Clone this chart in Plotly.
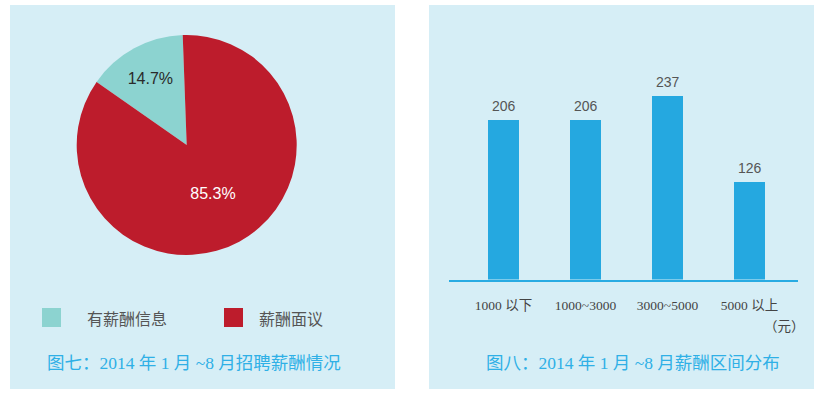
import plotly.graph_objects as go

W, H = 822, 398

# ---- data ----
pie_labels = ["有薪酬信息", "薪酬面议"]
pie_values = [14.7, 85.3]
pie_colors = ["#8cd3d0", "#bd1c2c"]
pie_text_colors = ["#2a2a2a", "#ffffff"]

bar_categories = ["1000 以下", "1000~3000", "3000~5000", "5000 以上"]
bar_values = [206, 206, 237, 126]
bar_color = "#25a8e0"

caption_left = "图七：2014 年 1 月 ~8 月招聘薪酬情况"
caption_right = "图八：2014 年 1 月 ~8 月薪酬区间分布"
unit_label = "（元）"

PANEL = "#d6eef6"
CAPTION = "#2fb0e6"
SERIF = "Liberation Serif, Noto Sans CJK SC, serif"
SANS = "Liberation Sans, Arial, Noto Sans CJK SC, sans-serif"


def px(x):
    return x / W


def py(y):
    return 1 - y / H


fig = go.Figure()

# ---- pie ----
fig.add_trace(go.Pie(
    labels=pie_labels,
    values=pie_values,
    marker=dict(colors=pie_colors, line=dict(width=0)),
    sort=False,
    direction="clockwise",
    rotation=-55,
    textinfo="percent",
    texttemplate="%{value:.1f}%",
    textposition="inside",
    insidetextorientation="horizontal",
    textfont=dict(family=SANS, size=16, color=pie_text_colors),
    domain=dict(x=[px(76.7), px(296.7)], y=[py(255), py(35)]),
    showlegend=False,
    hoverinfo="label+percent",
))

# ---- bars ----
fig.add_trace(go.Bar(
    x=bar_categories,
    y=bar_values,
    marker=dict(color=bar_color, line=dict(width=0)),
    width=0.378,
    showlegend=False,
    xaxis="x",
    yaxis="y",
))

scale = 0.7742  # px per unit
base_y = 279.5
top_y = 60
x0, x1 = 449, 798
cat_px = 82.0

fig.update_layout(
    width=W, height=H,
    margin=dict(l=0, r=0, t=0, b=0),
    paper_bgcolor="white",
    plot_bgcolor="rgba(0,0,0,0)",
    xaxis=dict(
        domain=[px(x0), px(x1)],
        anchor="y",
        range=[-(503.5 - x0) / cat_px, 3 + (x1 - 749.5) / cat_px],
        showline=True, linecolor="#29abe2", linewidth=2,
        showgrid=False, zeroline=False,
        ticks="outside", ticklen=12, tickcolor="rgba(0,0,0,0)",
        tickfont=dict(family=SERIF, size=13.5, color="#444444"),
        fixedrange=True,
    ),
    yaxis=dict(
        domain=[py(base_y), py(top_y)],
        anchor="x",
        range=[0, (base_y - top_y) / scale],
        visible=False,
        fixedrange=True,
    ),
    bargap=0,
)

# panels
for (a, b) in [(10, 395), (429, 814)]:
    fig.add_shape(type="rect", xref="paper", yref="paper",
                  x0=px(a), x1=px(b), y0=py(389), y1=py(5),
                  fillcolor=PANEL, line=dict(width=0), layer="below")

# value labels above bars
for c, v in zip(bar_categories, bar_values):
    fig.add_annotation(x=c, y=v, xref="x", yref="y", text=str(v),
                       showarrow=False, yanchor="bottom", yshift=4,
                       font=dict(family=SANS, size=14, color="#555555"))

# unit label
fig.add_annotation(x=px(807), y=py(326), xref="paper", yref="paper",
                   text=unit_label, showarrow=False, xanchor="right", yanchor="middle",
                   font=dict(family=SERIF, size=13.5, color="#444444"))

# legend for pie
legend_pos = [(42, 85), (224, 257)]
for (sx, tx), lab, col in zip(legend_pos, pie_labels, pie_colors):
    fig.add_shape(type="rect", xref="paper", yref="paper",
                  x0=px(sx), x1=px(sx + 19), y0=py(327), y1=py(308),
                  fillcolor=col, line=dict(width=0))
    fig.add_annotation(x=px(tx), y=py(317.5), xref="paper", yref="paper",
                       text=lab, showarrow=False, xanchor="left", yanchor="middle",
                       font=dict(family="Noto Sans CJK SC, sans-serif", size=16, color="#555555"))

# captions
fig.add_annotation(x=px(194), y=py(363), xref="paper", yref="paper",
                   text=caption_left, showarrow=False, xanchor="center", yanchor="middle",
                   font=dict(family=SERIF, size=17.5, color=CAPTION))
fig.add_annotation(x=px(633), y=py(363), xref="paper", yref="paper",
                   text=caption_right, showarrow=False, xanchor="center", yanchor="middle",
                   font=dict(family=SERIF, size=17.5, color=CAPTION))

fig.write_html("out.html", config={"displayModeBar": False},
               post_script="document.body.style.margin='0';")
